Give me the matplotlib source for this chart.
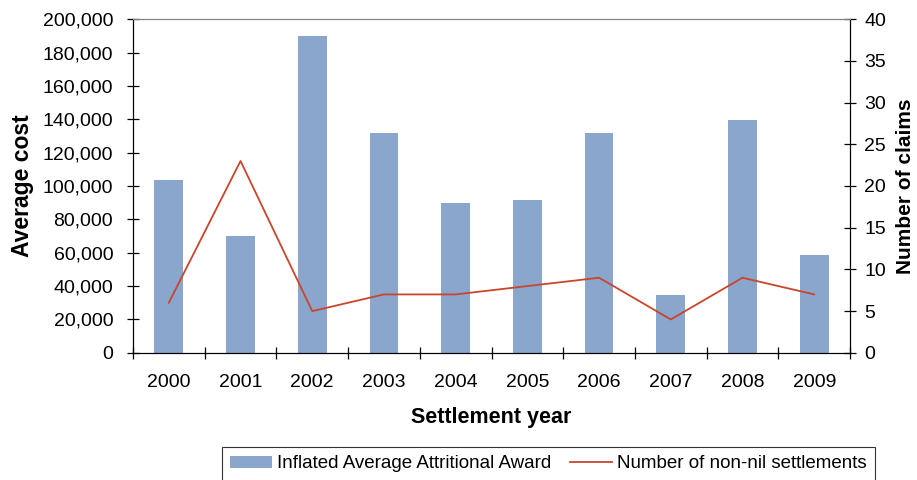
import matplotlib
matplotlib.use('Agg')
import matplotlib.pyplot as plt
from matplotlib.ticker import FuncFormatter

plt.rcParams['font.family'] = ['Liberation Sans', 'DejaVu Sans']
plt.rcParams['font.size'] = 14

years = ['2000', '2001', '2002', '2003', '2004', '2005', '2006', '2007', '2008', '2009']
avg_award = [103600, 70000, 190000, 132000, 89800, 91600, 132000, 34800, 139500, 58700]
settlements = [6, 23, 5, 7, 7, 8, 9, 4, 9, 7]

bar_color = '#8AA6CD'
line_color = '#C9452C'

fig = plt.figure(figsize=(9.17, 4.8), dpi=100)
ax = fig.add_axes([0.145, 0.265, 0.782, 0.695])
ax2 = ax.twinx()

x = list(range(len(years)))
bars = ax.bar(x, avg_award, width=0.4, color=bar_color, zorder=2,
              label='Inflated Average Attritional Award')
line, = ax2.plot(x, settlements, color=line_color, lw=1.3,
                 label='Number of non-nil settlements')

ax.set_xlim(-0.5, 9.5)
ax.set_ylim(0, 200000)
ax.set_yticks(range(0, 200001, 20000))
ax.yaxis.set_major_formatter(FuncFormatter(lambda v, p: f'{int(v):,}'))
ax2.set_ylim(0, 40)
ax2.set_yticks(range(0, 41, 5))

ax.set_xticks(x)
ax.set_xticklabels(years)
ax.set_xticks([i + 0.5 for i in range(-1, 10)], minor=True)
ax.tick_params(axis='x', which='major', length=0, pad=15)
ax.tick_params(axis='x', which='minor', length=8.5, direction='inout', width=0.9)
ax.tick_params(axis='y', length=8.5, direction='inout', width=0.9, pad=10)
ax2.tick_params(axis='y', length=8.5, direction='inout', width=0.9, pad=6)

for a in (ax, ax2):
    a.spines['top'].set_color('#808080')
    a.spines['left'].set_color('black')
    a.spines['bottom'].set_color('black')
    a.spines['right'].set_color('black')

ax.set_xlabel('Settlement year', fontweight='bold', fontsize=15.5, labelpad=12)
ax.set_ylabel('Average cost', fontweight='bold', fontsize=16.5, labelpad=6)
ax2.set_ylabel('Number of claims', fontweight='bold', fontsize=15, labelpad=7)

leg = fig.legend(handles=[bars, line], loc='upper left', ncol=2,
                 bbox_to_anchor=(222 / 917, 1 - 447 / 480),
                 frameon=True, fancybox=False, edgecolor='black',
                 handlelength=2.2, handleheight=0.6, columnspacing=1.0,
                 handletextpad=0.3, borderpad=0.45, borderaxespad=0,
                 fontsize=13.5)
leg.get_frame().set_linewidth(0.8)

fig.savefig('out.png', dpi=100)
